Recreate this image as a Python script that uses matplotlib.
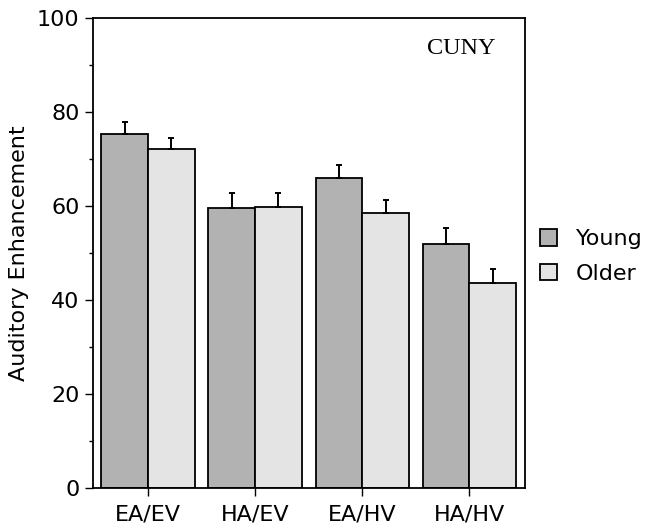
import numpy as np
import matplotlib.pyplot as plt

# Values
conditions = ['EA/EV', 'HA/EV', 'EA/HV', 'HA/HV']
young = [75.3, 59.6, 66.0, 51.9]
young_err = [2.6, 3.3, 2.7, 3.4]
older = [72.2, 59.9, 58.6, 43.6]
older_err = [2.3, 3.0, 2.7, 3.1]

plt.rcParams['font.family'] = ['DejaVu Sans']

fig = plt.figure(figsize=(6.46, 5.31), dpi=100)
ax = fig.add_axes([0.1435, 0.081, 0.6687, 0.8847])

x = np.arange(len(conditions))
w = 0.435
err_kw = dict(ecolor='black', elinewidth=1.4, capsize=2.5, capthick=1.4)
ax.bar(x - w / 2, young, w, color='#b2b2b2', edgecolor='black', linewidth=1.3,
       yerr=[np.zeros(4), young_err], error_kw=err_kw, label='Young')
ax.bar(x + w / 2, older, w, color='#e4e4e4', edgecolor='black', linewidth=1.3,
       yerr=[np.zeros(4), older_err], error_kw=err_kw, label='Older')

ax.set_xlim(-0.515, 3.515)
ax.set_ylim(0, 100)
ax.set_xticks(x)
ax.set_xticklabels(conditions, fontsize=16)
ax.set_yticks([0, 20, 40, 60, 80, 100])
ax.set_yticks([10, 30, 50, 70, 90], minor=True)
ax.tick_params(axis='both', which='major', labelsize=16, length=6, width=1, direction='out')
ax.tick_params(axis='y', which='minor', length=3, width=1, direction='out')
ax.tick_params(axis='x', pad=6)
for s in ax.spines.values():
    s.set_linewidth(1.3)

ax.set_ylabel('Auditory Enhancement', fontsize=16, labelpad=6)

ax.text(2.92, 93.6, 'CUNY', family='Liberation Serif', fontsize=17.5,
        ha='center', va='center')

ax.legend(loc='center left', bbox_to_anchor=(0.99, 0.493), frameon=False,
          fontsize=16, handlelength=0.75, handleheight=0.75, handletextpad=0.85,
          labelspacing=0.65)

plt.savefig('out.png', dpi=100)
